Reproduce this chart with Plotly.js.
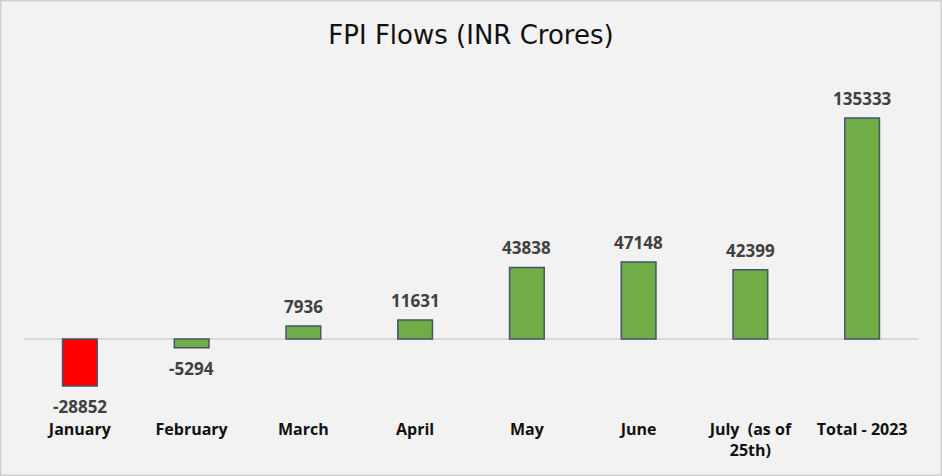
<!DOCTYPE html>
<html>
<head>
<meta charset="utf-8">
<script src="https://cdn.plot.ly/plotly-3.0.1.min.js"></script>
<style>
html,body{margin:0;padding:0;background:#f2f2f2;}
#chart{width:942px;height:476px;}
</style>
</head>
<body>
<div id="chart"></div>
<script>
const categories = ["January", "February", "March", "April", "May", "June", "July  (as of<br>25th)", "Total - 2023"];
const flows = [-28852, -5294, 7936, 11631, 43838, 47148, 42399, 135333];
const labels = ["-28852", "-5294", "7936", "11631", "43838", "47148", "42399", "135333"];

const colors = flows.map((v, i) => i === 0 ? "#ff0000" : "#70ad47");

const trace = {
  type: "bar",
  x: categories,
  y: flows,
  width: 0.31,
  marker: {color: colors, line: {color: "#44546a", width: 1.5}},
  hoverinfo: "skip"
};

const annotations = flows.map((v, i) => ({
  x: categories[i],
  y: v,
  xref: "x",
  yref: "y",
  text: labels[i],
  showarrow: false,
  yanchor: v >= 0 ? "bottom" : "top",
  yshift: v >= 0 ? 7 : -8,
  borderpad: 0,
  font: {family: "Open Sans, sans-serif", size: 17, color: "#404040", weight: "bold"}
}));

const layout = {
  width: 942,
  height: 476,
  paper_bgcolor: "#f2f2f2",
  plot_bgcolor: "#f2f2f2",
  margin: {l: 24, r: 24, t: 60, b: 61},
  title: {
    text: "FPI Flows (INR Crores)",
    x: 0.5, xanchor: "center",
    y: 1 - 35/476, yanchor: "middle",
    yref: "container",
    font: {family: "DejaVu Sans, sans-serif", size: 26, color: "#111111"}
  },
  xaxis: {
    type: "category",
    showgrid: false,
    zeroline: false,
    showline: false,
    ticks: "",
    ticklabelstandoff: 3,
    tickfont: {family: "Open Sans, sans-serif", size: 16, color: "#111111", weight: "bold"}
  },
  yaxis: {
    range: [-46540, 170850],
    showgrid: false,
    zeroline: true,
    zerolinecolor: "#d9d9d9",
    zerolinewidth: 2,
    showticklabels: false,
    ticks: ""
  },
  showlegend: false,
  annotations: annotations,
  shapes: [{
    type: "rect", xref: "paper", yref: "paper",
    x0: -24/894, x1: 1 + 24/894, y0: -61/355, y1: 1 + 60/355,
    line: {color: "#d0d0d0", width: 3}, fillcolor: "rgba(0,0,0,0)", layer: "above"
  }]
};

Plotly.newPlot("chart", [trace], layout, {displayModeBar: false, staticPlot: true});
</script>
</body>
</html>
